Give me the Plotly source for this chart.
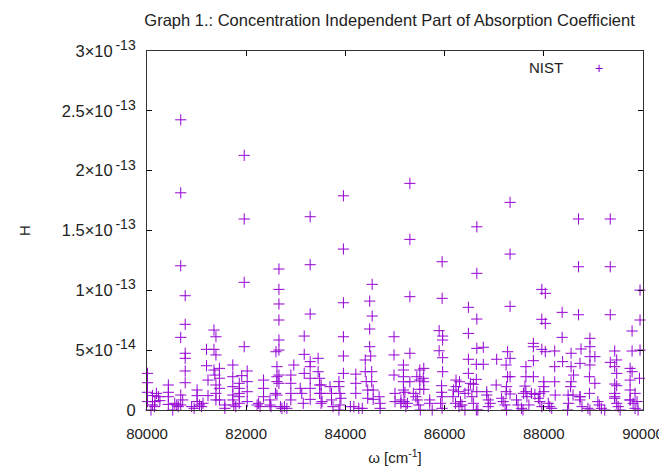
import plotly.graph_objects as go
import numpy as np

# wavenumber [cm^-1] and H in units of 1e-14
points = [
    (80680, 24.25), (80680, 18.15), (81960, 21.28), (81960, 15.96), (83290, 16.15), (83960, 17.9),
    (85300, 18.94), (86650, 15.31), (87320, 17.35), (88700, 15.96), (89340, 15.96),
    (85300, 14.26), (87320, 13.03), (85950, 12.39), (88700, 11.97), (89340, 11.97), (86650, 11.42),
    (89940, 10.02), (87960, 10.08), (88030, 9.75), (85300, 9.47), (85950, 9.33), (87320, 8.66),
    (86480, 8.58), (86650, 7.6), (88370, 8.16), (88700, 7.96), (89340, 7.96), (87960, 7.58),
    (88030, 7.24), (89940, 7.52), (89780, 6.6), (85890, 6.63), (85960, 6.18), (85960, 5.85),
    (86480, 6.4), (88370, 6.07), (88930, 5.99), (88930, 5.29), (86650, 5.15), (86780, 5.24),
    (87790, 5.57), (87790, 5.29), (87270, 4.87), (87960, 5.07), (88030, 4.87), (88220, 4.93),
    (88550, 4.74), (88750, 5.1), (89430, 4.93), (89780, 4.93), (89940, 5.01), (85300, 4.74),
    (85890, 4.95), (85960, 4.37), (87320, 4.32), (86480, 4.24), (87050, 4.24), (88930, 4.46),
    (89030, 4.46), (89340, 3.98), (89470, 4.18), (87790, 4.12), (88380, 4.04), (88730, 3.9),
    (85170, 3.76), (85170, 3.34), (85500, 3.34), (85580, 3.48), (86640, 3.82), (86780, 3.82),
    (87240, 3.76), (87640, 3.62), (88220, 3.62), (88550, 3.62), (88930, 3.76), (89740, 3.48),
    (89780, 3.2), (89430, 3.62), (85960, 3.2), (89470, 3.06), (85170, 2.78), (85170, 2.36),
    (85440, 2.78), (85570, 2.65), (86480, 3.06), (87270, 2.78), (87320, 2.78), (87790, 2.78),
    (87640, 2.78), (88600, 2.92), (88920, 2.78), (89930, 2.65), (86230, 2.5), (86300, 2.36),
    (87040, 2.09), (85300, 2.36), (85500, 2.5), (85580, 2.36), (86640, 2.56), (88000, 2.36),
    (88220, 2.36), (88550, 2.36), (89030, 2.23), (89740, 2.5), (89430, 2.17), (89470, 2.03),
    (85940, 2.03), (86520, 2.23), (86580, 2.15), (87250, 1.95), (87620, 2.0), (88000, 1.95),
    (88540, 1.95), (85170, 1.67), (85200, 1.48), (85370, 1.39), (85500, 1.73), (85580, 1.73),
    (85940, 1.48), (86180, 1.67), (86230, 1.95), (86280, 1.53), (86410, 1.39), (86480, 1.67),
    (86650, 1.53), (86850, 1.53), (87240, 1.53), (87320, 1.34), (87590, 1.39), (87640, 1.53),
    (87750, 1.39), (87820, 1.31), (87920, 1.39), (88000, 1.53), (88230, 1.25), (88490, 1.25),
    (88590, 1.25), (88730, 1.11), (88920, 1.39), (89430, 1.39), (89430, 1.11), (89740, 1.67),
    (89740, 0.84), (89840, 1.39), (89880, 0.7),
    (80010, 3.06), (80010, 2.28), (80010, 1.48), (80010, 0.7), (80110, 1.2), (80110, 0.42),
    (80160, 0.7), (80190, 1.39), (80230, 1.11), (80260, 0.78), (80150, 0.28), (80080, 0.0),
    (80430, 2.09), (80430, 1.48), (80430, 1.11), (80430, 0.47), (80560, 0.56), (80600, 0.42),
    (80630, 0.28), (80520, 0.0), (80680, 12.05), (80680, 6.07), (80680, 1.25), (80680, 0.42),
    (80720, 0.84), (80770, 9.55), (80770, 7.16), (80770, 4.74), (80770, 4.32), (80770, 3.26),
    (80770, 2.28), (80900, 0.28), (80950, 0.14), (81060, 0.42), (81100, 0.28), (81130, 0.56),
    (81010, 1.67), (81010, 1.2), (81010, 0.7), (81200, 5.07), (81200, 3.7), (81230, 2.5),
    (81230, 1.2), (81350, 6.68), (81350, 5.07), (81350, 3.34), (81370, 2.92), (81390, 6.12),
    (81390, 4.6), (81390, 2.09), (81390, 1.39), (81390, 0.84), (81460, 3.48), (81460, 2.65),
    (81460, 1.81), (81460, 0.84), (81570, 0.42), (81570, 0.14), (81730, 3.76), (81730, 2.78),
    (81730, 1.95), (81730, 1.25), (81730, 0.84), (81750, 0.42), (81790, 0.28), (81860, 2.23),
    (81860, 1.81), (81860, 1.39), (81860, 1.11), (81860, 0.56), (81910, 2.87), (81960, 10.67),
    (81960, 5.29), (82020, 3.26), (82020, 2.37), (82020, 1.53), (82020, 0.7), (82220, 0.42),
    (82250, 0.56), (82280, 0.28), (82350, 2.5), (82350, 1.81), (82350, 1.11), (82480, 0.84),
    (82480, 0.42), (82500, 0.28), (82600, 4.87), (82620, 3.62), (82620, 2.78), (82620, 2.37),
    (82590, 1.39), (82620, 1.25), (82660, 11.78), (82660, 10.08), (82660, 8.86), (82660, 7.52),
    (82660, 5.85), (82660, 5.01), (82660, 2.92), (82660, 2.23), (82690, 0.28), (82720, 0.14),
    (82770, 0.28), (82820, 0.14), (82900, 2.92), (82900, 2.23), (82900, 1.39), (82900, 0.84),
    (82960, 3.76), (83090, 1.81), (83120, 1.39), (83150, 0.56), (83170, 6.18), (83170, 4.65),
    (83170, 3.06), (83290, 12.14), (83290, 8.02), (83290, 4.04), (83290, 3.62), (83290, 2.65),
    (83290, 1.81), (83290, 0.89), (83450, 4.32), (83450, 3.2), (83480, 2.65), (83480, 2.09),
    (83480, 1.39), (83510, 0.56), (83510, 2.09), (83510, 1.39), (83530, 0.7), (83690, 1.95),
    (83720, 1.39), (83720, 0.84), (83750, 0.28), (83870, 2.37), (83870, 1.95), (83890, 1.39),
    (83910, 0.98), (83890, 0.42), (83870, 0.0), (83960, 13.45), (83960, 8.96), (83960, 6.12),
    (83960, 4.51), (83960, 3.06), (84100, 0.28), (84170, 0.28), (84270, 0.14), (84340, 0.14),
    (84210, 3.0), (84210, 2.23), (84210, 1.39), (84400, 4.18), (84400, 3.2), (84420, 2.37),
    (84450, 1.67), (84450, 0.98), (84490, 9.1), (84490, 6.77), (84490, 5.29), (84510, 4.51),
    (84530, 3.2), (84530, 2.37), (84560, 1.67), (84560, 0.89), (84540, 10.5), (84540, 7.85),
    (84680, 1.11), (84700, 0.56), (84700, 0.14), (84980, 6.12), (84980, 4.6), (84980, 2.92),
    (85000, 1.39), (85000, 0.7),
    (85120, 0.84), (85120, 0.56), (85180, 0.7), (85250, 0.56), (85220, 0.28), (85420, 1.11),
    (85450, 0.84), (85480, 0.42), (85510, 0.0), (85700, 0.84), (85700, 0.56), (85750, 0.0),
    (85920, 0.56), (85950, 0.14), (85950, 1.11), (86170, 1.11), (86220, 0.56), (86290, 0.28),
    (86320, 0.7), (86350, 0.42), (86410, 0.0), (86550, 1.11), (86580, 0.56), (86640, 0.0),
    (86670, 0.0), (86850, 1.25), (86880, 0.84), (86920, 0.56), (86880, 0.28), (87150, 0.98),
    (87180, 0.7), (87220, 0.42), (87250, 0.0), (87450, 0.84), (87480, 0.42), (87550, 0.14),
    (87580, 0.0), (87660, 1.11), (87700, 0.42), (87890, 0.98), (87920, 0.7), (87960, 0.28),
    (88090, 0.56), (88120, 0.28), (88160, 0.14), (88500, 0.56), (88480, 0.0), (88730, 1.11),
    (88730, 0.84), (88770, 0.28), (88890, 0.14), (88930, 0.0), (89090, 0.7), (89120, 0.42),
    (89160, 0.14), (89230, 0.0), (89430, 0.98), (89470, 0.56), (89500, 0.28), (89540, 0.0),
    (89740, 0.84), (89800, 0.56), (89840, 0.14), (89900, 0.0),
]
wavenumber = [p[0] for p in points]
H_e14 = [p[1] for p in points]
H = np.array(H_e14) * 1e-14

x_ticks = [80000, 82000, 84000, 86000, 88000, 90000]
y_ticks = [0, 5e-14, 1e-13, 1.5e-13, 2e-13, 2.5e-13, 3e-13]
sup = "<sup><span style='font-size:14px'>&#8201;%s</span></sup>"
y_ticktext = ["0", "5×10" + sup % "-14", "1×10" + sup % "-13", "1.5×10" + sup % "-13",
              "2×10" + sup % "-13", "2.5×10" + sup % "-13", "3×10" + sup % "-13"]

color = "#9400D3"
font = "Liberation Sans, Arial, sans-serif"

# the page body adds an 8px offset; figure is sized to fit the 667x468 window
fig = go.Figure()
fig.add_trace(go.Scatter(
    x=wavenumber, y=H, mode="markers", name="NIST", cliponaxis=False,
    marker=dict(symbol="cross-thin", size=8, line=dict(color=color, width=1)),
    showlegend=False,
))

fig.update_layout(
    width=659, height=460,
    margin=dict(l=139, r=24, t=43, b=58),
    paper_bgcolor="white", plot_bgcolor="white",
    font=dict(family=font, size=15, color="#222"),
    title=dict(text="Graph 1.: Concentration Independent Part of Absorption Coefficient",
               x=0.579, xanchor="center", y=0.974, yanchor="middle",
               font=dict(size=16.5, color="#222")),
    xaxis=dict(range=[80000, 90000], tickvals=x_ticks, ticktext=[str(v) for v in x_ticks],
               ticks="inside", ticklen=5, tickcolor="black", showline=True, linecolor="#333",
               linewidth=1, mirror="ticks", showgrid=False, zeroline=False, automargin=False,
               ticklabelstandoff=10,
               title=dict(text="ω [cm<sup>-1</sup>]", standoff=11, font=dict(size=15))),
    yaxis=dict(range=[0, 3e-13], tickvals=y_ticks, ticktext=y_ticktext,
               tickfont=dict(size=16.5),
               ticks="inside", ticklen=5, tickcolor="black", showline=True, linecolor="#333",
               linewidth=1, mirror="ticks", showgrid=False, zeroline=False, automargin=False,
               ticklabelstandoff=7,
               title=dict(text="H", standoff=27, font=dict(size=15))),
    annotations=[
        dict(text="NIST", x=0.843, y=0.953, xref="paper", yref="paper", xanchor="right",
             yanchor="middle", showarrow=False, font=dict(size=15, color="#222")),
        dict(text="+", x=0.911, y=0.953, xref="paper", yref="paper", xanchor="center",
             yanchor="middle", showarrow=False, font=dict(size=14, color=color)),
    ],
)

fig.write_html("out.html")
